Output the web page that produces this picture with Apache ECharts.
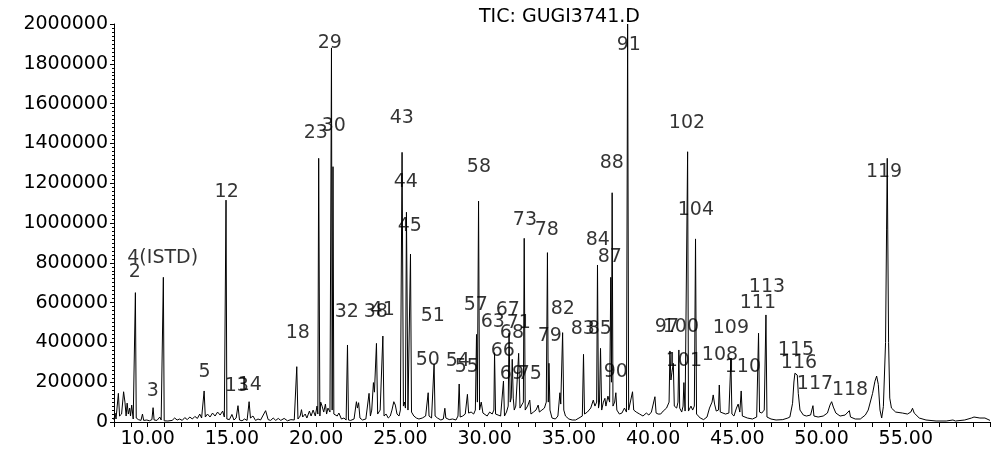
<!DOCTYPE html>
<html>
<head>
<meta charset="utf-8">
<script src="https://cdn.jsdelivr.net/npm/echarts@6/dist/echarts.min.js"></script>
<style>
  html, body { margin: 0; padding: 0; background: #fff; }
  #chart { width: 994px; height: 453px; }
</style>
</head>
<body>
<div id="chart"></div>
<script>
// Total ion chromatogram: retention time (min) vs. abundance
const chartTitle = 'TIC: GUGI3741.D';

// Trace points [retention time, abundance]
const trace = [
  [8.00, 10000], [8.06, 45000], [8.12, 15000], [8.26, 144000], [8.33, 30000],
  [8.45, 40000], [8.57, 152000], [8.65, 100000], [8.72, 30000], [8.78, 95000],
  [8.85, 40000], [8.93, 70000], [8.98, 30000], [9.05, 85000], [9.14, 15000],
  [9.22, 20000], [9.27, 650000], [9.32, 20000],
  [9.45, 12000], [9.60, 8000], [9.69, 40000], [9.76, 8000], [9.95, 10000],
  [10.10, 6000], [10.25, 12000], [10.32, 72000], [10.38, 10000], [10.55, 8000],
  [10.72, 25000], [10.80, 10000],
  [10.88, 8000], [10.93, 727000], [10.98, 6000],
  [11.20, 5000], [11.45, 8000], [11.60, 20000], [11.75, 10000], [11.90, 15000],
  [12.05, 8000], [12.20, 22000], [12.35, 12000], [12.50, 25000], [12.65, 15000],
  [12.80, 28000], [12.95, 18000], [13.09, 40000], [13.20, 20000],
  [13.35, 156000], [13.42, 25000], [13.55, 40000], [13.70, 25000], [13.85, 45000],
  [14.00, 30000], [14.15, 50000], [14.30, 35000], [14.45, 55000], [14.55, 25000],
  [14.60, 15000], [14.65, 1115000], [14.70, 15000],
  [14.85, 12000], [15.00, 38000], [15.12, 10000], [15.25, 20000], [15.36, 82000],
  [15.45, 10000], [15.60, 6000], [15.75, 15000], [15.90, 8000], [16.02, 102000],
  [16.10, 20000], [16.25, 30000], [16.40, 8000], [16.55, 15000], [16.70, 10000],
  [17.00, 57000], [17.15, 12000], [17.30, 8000], [17.45, 20000], [17.60, 8000],
  [17.75, 18000], [17.90, 8000], [18.10, 18000], [18.30, 6000], [18.50, 12000],
  [18.70, 10000], [18.78, 15000],
  [18.85, 278000], [18.92, 15000],
  [19.05, 30000], [19.13, 62000], [19.20, 25000], [19.35, 40000], [19.45, 20000],
  [19.60, 55000], [19.70, 30000], [19.82, 60000], [19.95, 30000], [20.05, 80000],
  [20.10, 40000], [20.15, 1325000], [20.22, 30000],
  [20.27, 100000], [20.35, 80000], [20.45, 50000], [20.55, 90000], [20.62, 40000],
  [20.70, 70000], [20.82, 50000], [20.88, 60000],
  [20.91, 1880000], [20.95, 60000], [21.00, 1283000], [21.05, 40000],
  [21.10, 40000], [21.25, 30000], [21.35, 45000], [21.50, 15000], [21.65, 20000],
  [21.78, 10000], [21.86, 387000], [21.92, 10000],
  [22.05, 8000], [22.25, 15000], [22.39, 102000], [22.45, 70000], [22.52, 97000],
  [22.60, 20000], [22.75, 10000], [22.95, 15000],
  [23.14, 144000], [23.22, 30000], [23.30, 60000], [23.40, 198000], [23.46, 150000],
  [23.58, 395000], [23.65, 40000], [23.80, 60000],
  [23.96, 432000], [24.03, 30000], [24.15, 40000], [24.28, 20000], [24.40, 30000],
  [24.50, 60000], [24.61, 102000], [24.70, 85000], [24.80, 40000], [24.92, 30000],
  [25.00, 60000], [25.10, 1355000], [25.18, 80000], [25.24, 100000], [25.30, 70000],
  [25.36, 1054000], [25.45, 60000], [25.60, 844000], [25.66, 50000],
  [25.80, 30000], [25.95, 20000], [26.10, 15000], [26.30, 20000], [26.50, 30000],
  [26.60, 40000], [26.65, 147000], [26.70, 30000], [26.85, 20000], [26.95, 30000],
  [27.00, 291000], [27.06, 30000],
  [27.20, 20000], [27.40, 10000], [27.55, 15000], [27.64, 69000], [27.70, 20000],
  [27.90, 12000], [28.10, 15000], [28.30, 10000], [28.42, 30000],
  [28.49, 191000], [28.55, 25000], [28.70, 30000], [28.85, 40000],
  [28.98, 139000], [29.05, 45000], [29.20, 50000], [29.35, 40000], [29.45, 60000],
  [29.52, 440000], [29.57, 100000], [29.64, 1110000], [29.70, 60000],
  [29.80, 100000], [29.90, 45000], [30.00, 40000], [30.15, 30000], [30.30, 50000],
  [30.45, 40000], [30.55, 60000], [30.59, 348000], [30.65, 40000], [30.80, 35000],
  [30.95, 30000], [31.05, 40000], [31.12, 206000], [31.18, 30000], [31.30, 50000],
  [31.40, 80000], [31.45, 446000], [31.52, 100000], [31.58, 120000], [31.64, 315000],
  [31.70, 120000], [31.76, 60000], [31.85, 80000], [31.95, 70000],
  [32.02, 345000], [32.10, 70000], [32.20, 60000], [32.30, 100000],
  [32.35, 923000], [32.41, 60000],
  [32.55, 80000], [32.68, 110000], [32.75, 40000], [32.90, 50000], [33.05, 60000],
  [33.18, 85000], [33.25, 50000], [33.40, 60000], [33.55, 70000], [33.66, 100000],
  [33.73, 851000], [33.78, 100000], [33.82, 295000], [33.88, 60000],
  [34.00, 20000], [34.20, 15000], [34.35, 30000], [34.47, 147000], [34.52, 90000],
  [34.63, 449000], [34.70, 60000],
  [34.80, 30000], [35.00, 15000], [35.20, 10000], [35.40, 10000], [35.60, 20000],
  [35.80, 30000], [35.87, 340000], [35.93, 40000],
  [36.10, 50000], [36.30, 70000], [36.45, 110000], [36.55, 80000], [36.65, 100000],
  [36.70, 789000], [36.76, 70000], [36.82, 100000], [36.88, 370000], [36.95, 60000],
  [37.05, 100000], [37.14, 119000], [37.20, 80000], [37.32, 130000], [37.42, 100000],
  [37.49, 727000], [37.53, 200000], [37.57, 1152000], [37.62, 80000],
  [37.72, 100000], [37.79, 147000], [37.85, 60000],
  [38.00, 40000], [38.15, 45000], [38.30, 70000], [38.42, 50000],
  [38.49, 2000000], [38.55, 60000],
  [38.65, 50000], [38.78, 152000], [38.85, 60000], [39.00, 50000], [39.20, 40000],
  [39.40, 30000], [39.60, 45000], [39.75, 35000], [39.90, 50000], [40.00, 40000],
  [40.11, 127000], [40.18, 45000], [40.30, 40000],
  [40.45, 40000], [40.60, 55000], [40.80, 70000], [40.95, 100000],
  [41.00, 357000], [41.06, 211000], [41.12, 250000], [41.20, 295000], [41.26, 80000],
  [41.40, 70000], [41.48, 100000], [41.53, 362000], [41.58, 70000], [41.70, 50000],
  [41.78, 80000], [41.83, 198000], [41.90, 55000], [42.00, 60000],
  [42.05, 1358000], [42.10, 55000],
  [42.25, 80000], [42.35, 60000], [42.45, 80000],
  [42.52, 920000], [42.58, 40000],
  [42.80, 20000], [43.00, 12000], [43.20, 25000], [43.35, 70000], [43.50, 100000],
  [43.57, 136000], [43.65, 90000], [43.75, 55000], [43.88, 60000],
  [43.93, 186000], [43.99, 50000],
  [44.10, 60000], [44.30, 40000], [44.50, 45000],
  [44.62, 315000], [44.68, 40000],
  [44.80, 30000], [44.95, 70000], [45.05, 90000], [45.15, 50000],
  [45.23, 156000], [45.30, 30000],
  [45.60, 20000], [45.90, 15000], [46.15, 25000],
  [46.26, 446000], [46.32, 50000], [46.45, 45000], [46.60, 60000],
  [46.70, 538000], [46.76, 25000],
  [47.00, 15000], [47.30, 10000], [47.70, 12000], [48.00, 20000], [48.12, 25000],
  [48.28, 94000], [48.36, 201000], [48.42, 245000], [48.48, 253000], [48.56, 236000],
  [48.62, 144000], [48.72, 60000], [48.92, 35000], [49.10, 30000], [49.35, 35000],
  [49.49, 82000], [49.55, 30000],
  [49.80, 25000], [50.10, 30000], [50.35, 45000], [50.50, 85000], [50.60, 102000],
  [50.70, 75000], [50.85, 45000], [51.10, 30000], [51.40, 35000],
  [51.65, 57000], [51.72, 25000],
  [52.00, 15000], [52.30, 15000], [52.60, 35000], [52.77, 60000], [53.03, 144000],
  [53.17, 205000], [53.27, 231000], [53.37, 189000], [53.47, 60000], [53.57, 20000],
  [53.67, 77000], [53.80, 400000], [53.86, 965000], [53.90, 1325000], [53.93, 965000],
  [53.98, 400000], [54.05, 120000], [54.15, 70000],
  [54.40, 50000], [54.80, 45000], [55.10, 40000], [55.30, 50000], [55.40, 69000],
  [55.50, 45000], [55.80, 20000], [56.20, 10000], [56.80, 5000], [57.40, 5000],
  [57.80, 10000], [57.95, 5000], [58.50, 10000], [58.90, 20000], [59.05, 25000],
  [59.15, 15000], [59.40, 20000], [59.70, 20000], [60.00, 8000]
];

// Peak numbers [retention time, label level, peak number]
const peakLabels = [
  [9.23, 754000, '2'], [10.89, 824000, '4(ISTD)'], [10.30, 156000, '3'],
  [13.38, 251000, '5'], [14.69, 1156000, '12'], [15.29, 181000, '13'],
  [16.06, 186000, '14'], [18.91, 447000, '18'], [19.98, 1452000, '23'],
  [20.81, 1905000, '29'], [21.05, 1487000, '30'], [21.82, 553000, '32'],
  [23.54, 553000, '38'], [23.95, 563000, '41'], [25.08, 1528000, '43'],
  [25.32, 1206000, '44'], [25.56, 985000, '45'], [26.63, 312000, '50'],
  [26.92, 533000, '51'], [28.41, 307000, '54'], [28.94, 276000, '55'],
  [29.48, 588000, '57'], [29.66, 1281000, '58'], [30.49, 503000, '63'],
  [31.08, 357000, '66'], [31.38, 563000, '67'], [31.62, 447000, '68'],
  [31.62, 241000, '69'], [32.03, 497000, '71'], [32.39, 1015000, '73'],
  [32.68, 241000, '75'], [33.69, 965000, '78'], [33.87, 432000, '79'],
  [34.64, 568000, '82'], [35.83, 467000, '83'], [36.72, 915000, '84'],
  [36.84, 467000, '85'], [37.43, 829000, '87'], [37.55, 1301000, '88'],
  [37.79, 251000, '90'], [38.56, 1894000, '91'], [40.82, 477000, '97'],
  [41.65, 477000, '100'], [41.83, 307000, '101'], [42.01, 1502000, '102'],
  [42.54, 1065000, '104'], [43.97, 337000, '108'], [44.62, 472000, '109'],
  [45.33, 276000, '110'], [46.22, 598000, '111'], [46.76, 678000, '113'],
  [48.48, 362000, '115'], [48.66, 296000, '116'], [49.61, 191000, '117'],
  [51.69, 161000, '118'], [53.71, 1256000, '119']
];

const FONT = 'DejaVu Sans';
const chart = echarts.init(document.getElementById('chart'), null, { renderer: 'canvas' });

chart.setOption({
  animation: false,
  backgroundColor: '#ffffff',
  title: {
    text: chartTitle,
    left: 474,
    top: 3,
    textStyle: { fontFamily: FONT, fontSize: 19, fontWeight: 'normal', color: '#000' }
  },
  grid: { left: 114, right: 4, top: 24, bottom: 31, containLabel: false },
  xAxis: {
    type: 'value',
    min: 8,
    max: 60,
    interval: 1,
    axisLine: { show: true, lineStyle: { color: '#000', width: 1 } },
    axisTick: { show: true, length: 5, lineStyle: { color: '#000', width: 1 } },
    axisLabel: {
      margin: 8,
      color: '#000',
      fontFamily: FONT,
      fontSize: 19,
      formatter: v => (v % 5 === 0 && v < 60) ? v.toFixed(2) : ''
    },
    splitLine: { show: false }
  },
  yAxis: {
    type: 'value',
    min: 0,
    max: 2000000,
    interval: 200000,
    axisLine: { show: true, lineStyle: { color: '#000', width: 1 } },
    axisTick: { show: true, length: 4, lineStyle: { color: '#000', width: 1 } },
    minorTick: { show: true, splitNumber: 10, length: 2, lineStyle: { color: '#000', width: 1 } },
    axisLabel: {
      margin: 6,
      color: '#000',
      fontFamily: FONT,
      fontSize: 19,
      formatter: v => String(v)
    },
    splitLine: { show: false }
  },
  series: [
    {
      type: 'scatter',
      z: 1,
      symbolSize: 0,
      silent: true,
      data: peakLabels.map(p => ({ value: [p[0], p[1]], name: p[2] })),
      label: {
        show: true,
        position: 'inside',
        formatter: '{b}',
        color: '#000',
        fontFamily: FONT,
        fontSize: 19
      }
    },
    {
      type: 'line',
      z: 3,
      data: trace,
      showSymbol: false,
      symbol: 'none',
      clip: true,
      lineStyle: { color: '#000', width: 1 }
    }
  ]
});
</script>
</body>
</html>
